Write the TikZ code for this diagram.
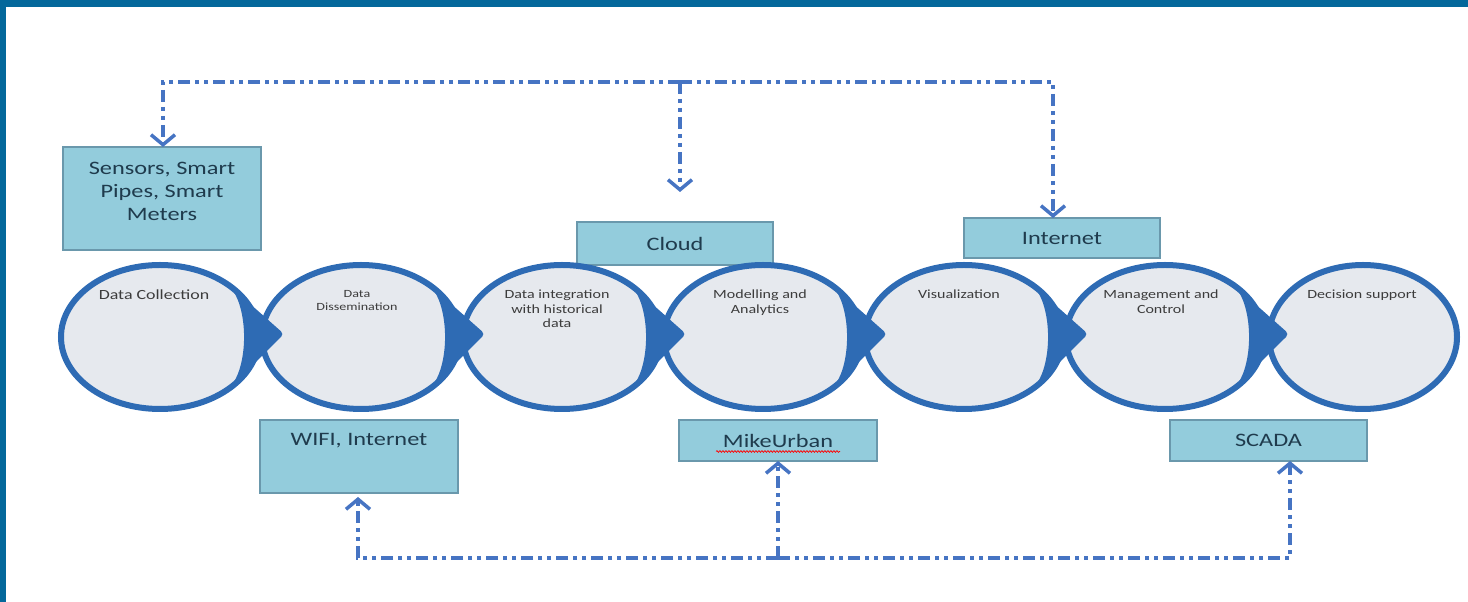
\documentclass[tikz,border=0pt]{standalone}
\usepackage{fontspec}
\setmainfont{Carlito}
\newfontfamily\sfnt[FakeStretch=1.28]{Carlito}
\usetikzlibrary{shapes.geometric,arrows.meta,calc,decorations.pathmorphing}
\definecolor{band}{HTML}{04689B}
\definecolor{ebl}{HTML}{2E6BB4}
\definecolor{efill}{HTML}{E6E9EE}
\definecolor{etx}{HTML}{3C3C3C}
\definecolor{bfill}{HTML}{93CCDC}
\definecolor{bdr}{HTML}{6A98AC}
\definecolor{btx}{HTML}{1F3B4D}
\definecolor{cline}{HTML}{4674C3}
\tikzset{
  ell/.style={ellipse, draw=ebl, line width=6pt, fill=efill, minimum width=198pt, minimum height=144pt, inner sep=0pt, outer sep=0pt},
  etext/.style={anchor=north, align=center, text=etx, inner sep=0pt, font=\sfnt\fontsize{12.5}{14.5}\selectfont},
  box/.style={draw=bdr, line width=1.3pt, fill=bfill, inner sep=0pt, outer sep=0pt, align=center, text=btx, font=\sfnt\fontsize{19}{23}\selectfont},
  btext/.style={anchor=north, align=center, text=btx, inner sep=0pt, font=\sfnt\fontsize{19}{23}\selectfont},
  conn/.style={draw=cline, line width=3.5pt, dash pattern=on 12pt off 5pt on 4pt off 5pt on 4pt off 5pt},
  arr/.style={-{Straight Barb[length=10pt,width=24pt,line width=3.5pt]}}
}
\begin{document}
\begin{tikzpicture}[x=1pt,y=1pt]
\useasboundingbox (0,0) rectangle (1468,602);
\fill[white] (0,0) rectangle (1468,602);
\fill[band] (0,595) rectangle (1468,602);
\fill[band] (0,0) rectangle (6,602);

% boxes
\node[box, minimum width=198pt, minimum height=103pt] (sens) at (162,403.5) {};
\node[btext] (senst) at ($(sens.north)+(0,-15)$) {Sensors, Smart\\Pipes, Smart\\Meters};
\node[box, minimum width=196pt, minimum height=43pt] (cloud) at (675,358.5) {Cloud};
\node[box, minimum width=196pt, minimum height=40pt] (inet) at (1062,364) {Internet};
\node[box, minimum width=198pt, minimum height=73pt] (wifi) at (359,145.5) {};
\node[btext] (wifit) at ($(wifi.north)+(0,-13.5)$) {WIFI, Internet};
\node[box, minimum width=198pt, minimum height=41pt] (mike) at (778,161.5) {MikeUrban};
\node[box, minimum width=197pt, minimum height=41pt] (scada) at (1268.5,161.5) {SCADA};
\draw[red, line width=0.7pt, decorate, decoration={snake, amplitude=0.9pt, segment length=3pt}]
  ($(mike.center)+(-62,-11)$) -- ($(mike.center)+(62,-11)$);

% ellipses
\foreach \n/\x in {1/160,2/361,3/562,4/763,5/964,6/1165}
  \node[ell] (e\n) at (\x,265) {};
\node[ell, minimum width=188pt] (e7) at (1363,265) {};

% pointed tips
\foreach \n in {1,...,6}
  \fill[ebl, rounded corners=4pt] ($(e\n.center)+(45:99 and 72)$) -- ($(e\n.center)+(124,3)$)
    -- ($(e\n.center)+(-45:99 and 72)$) .. controls ($(e\n.center)+(88,-25)$) and ($(e\n.center)+(88,25)$) .. cycle;

% ellipse texts
\node[etext, font=\sfnt\fontsize{14}{16}\selectfont] (t1) at ($(e1.center)+(-6,47)$) {Data Collection};
\node[etext, font=\sfnt\fontsize{11}{13}\selectfont] (t2) at ($(e2.center)+(-4,47)$) {Data\\Dissemination};
\node[etext] (t3) at ($(e3.center)+(-5,47)$) {Data integration\\with historical\\data};
\node[etext] (t4) at ($(e4.center)+(-3,47)$) {Modelling and\\Analytics};
\node[etext] (t5) at ($(e5.center)+(-5,47)$) {Visualization};
\node[etext] (t6) at ($(e6.center)+(-4,47)$) {Management and\\Control};
\node[etext] (t7) at ($(e7.center)+(-1,47)$) {Decision support};

% top connectors
\coordinate (tl) at (163,520);
\coordinate (tm) at (680,520);
\coordinate (tr) at (1053,520);
\coordinate (cend) at (680,410);
\draw[conn,arr] (tm) -- (tl) -- (tl |- sens.north);
\draw[conn,arr] (tm) -- (tr) -- (tr |- inet.north);
\draw[conn,arr] (tm) -- (cend);

% bottom connectors
\coordinate (bl) at (358,44);
\coordinate (bm) at (778,44);
\coordinate (br) at (1290,44);
\draw[conn,arr] (bm) -- (bl) -- ($(bl |- wifi.south)+(0,-4)$);
\draw[conn,arr] (bm) -- (br) -- (br |- scada.south);
\draw[conn,arr] (bm) -- (bm |- mike.south);
\end{tikzpicture}
\end{document}
